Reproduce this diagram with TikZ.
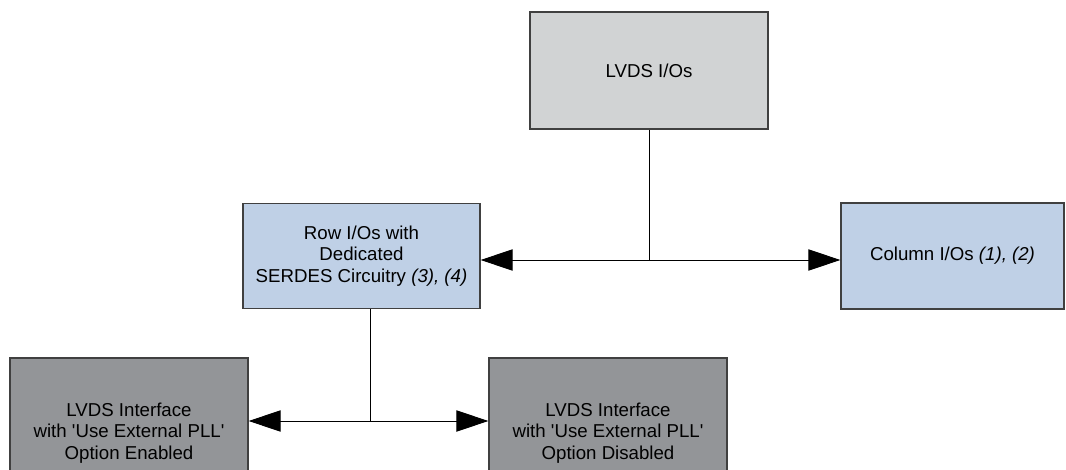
\documentclass[tikz,border=0pt]{standalone}
\usepackage{fontspec}
\setmainfont{Liberation Sans}
\usetikzlibrary{arrows.meta, positioning}

\definecolor{topgray}{HTML}{D1D3D4}
\definecolor{ioblue}{HTML}{BFD0E6}
\definecolor{pllgray}{HTML}{939598}

\begin{document}
\begin{tikzpicture}[x=0.75pt, y=-0.75pt,
    blk/.style={draw=black!75, line width=1pt, inner sep=0pt, align=center,
      font=\fontsize{14}{16.3}\selectfont},
    link/.style={line width=0.75pt},
    tip/.style={-{Triangle[length=24pt, width=16pt]}}]
  \useasboundingbox (0,0) rectangle (1066,470);
  \clip (0,0) rectangle (1066,470);
  \node[blk, fill=topgray, minimum width=178.5pt, minimum height=87.75pt] (lvds) at (649,70.5) {LVDS I/Os};
  \node[blk, fill=ioblue, minimum width=177.75pt, minimum height=78.75pt] (row) at (361.5,256) {Row I/Os with\\Dedicated\\SERDES Circuitry \textit{(3), (4)}};
  \node[blk, fill=ioblue, minimum width=167.25pt, minimum height=79.5pt] (col) at (952.5,256) {Column I/Os \textit{(1), (2)}};
  \node[blk, fill=pllgray, minimum width=178.5pt, minimum height=112.5pt] (pllon) at (129,433) {LVDS Interface\\with \textquotesingle Use External PLL\textquotesingle\\Option Enabled};
  \node[blk, fill=pllgray, minimum width=178.5pt, minimum height=112.5pt] (plloff) at (608,433) {LVDS Interface\\with \textquotesingle Use External PLL\textquotesingle\\Option Disabled};
  % split from the top block
  \coordinate (split) at (649,260);
  \draw[link] (lvds.south) -- (split);
  \draw[link, tip] (split) -- (row.east |- split);
  \draw[link, tip] (split) -- (col.west |- split);
  % split from the row block
  \coordinate (rsplit) at (370,421);
  \draw[link] (row.south -| rsplit) -- (rsplit);
  \draw[link, tip] (rsplit) -- (pllon.east |- rsplit);
  \draw[link, tip] (rsplit) -- (plloff.west |- rsplit);
\end{tikzpicture}
\end{document}
